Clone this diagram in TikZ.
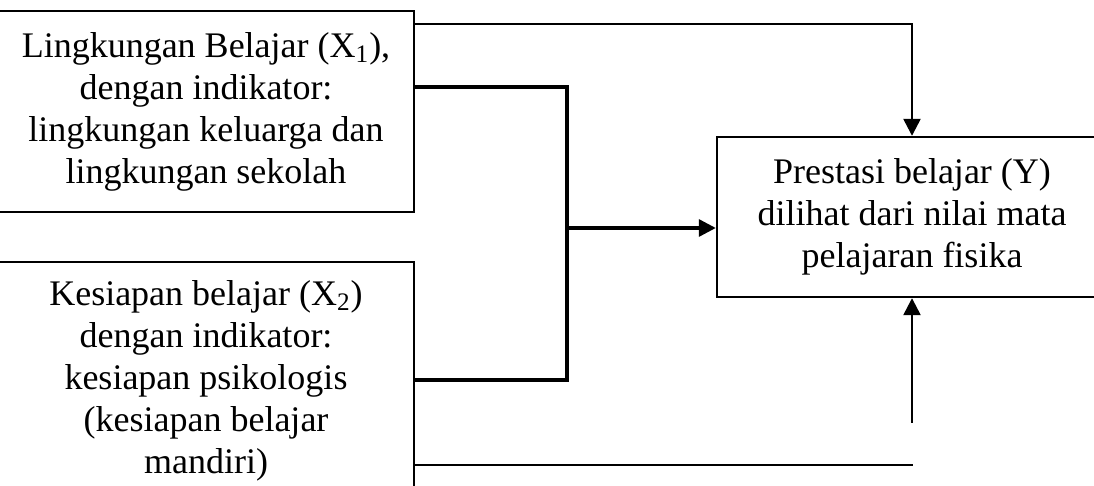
\documentclass[tikz,border=0pt]{standalone}
\usepackage{fontspec}
\setmainfont{Liberation Serif}
\usetikzlibrary{arrows.meta}
\begin{document}
\begin{tikzpicture}[x=0.5pt,y=-0.5pt,
  box/.style={draw=black,line width=1.2pt,align=center,inner sep=0pt,
    font=\fontsize{18}{21}\selectfont},
  conn/.style={draw=black,line width=1.25pt},
  thick conn/.style={draw=black,line width=1.6pt},
  arr/.style={-{Triangle[length=8.5pt,width=8.5pt]}}]
\useasboundingbox (0,0) rectangle (1094,486);
\node[box,minimum width=208pt,minimum height=100.5pt] (b1) at (206,111.5)
  {Lingkungan Belajar (X\textsubscript{1}),\\dengan indikator:\\lingkungan keluarga dan\\lingkungan sekolah};
\node[box,minimum width=208pt,minimum height=119pt] (b2) at (206,381)
  {Kesiapan belajar (X\textsubscript{2})\\dengan indikator:\\kesiapan psikologis\\(kesiapan belajar\\mandiri)};
\node[box,minimum width=195pt,minimum height=80pt] (y) at (912,217)
  {Prestasi belajar (Y)\\dilihat dari nilai mata\\pelajaran fisika};
\coordinate (j) at (567,228);
\coordinate (s) at (912,423);
\coordinate (e) at (913,465);
\draw[conn,arr] (b1.east |- 0,24) -| (y.north);
\draw[thick conn] (b1.east |- 0,87) -| (j);
\draw[thick conn] (b2.east |- 0,380) -| (j);
\draw[thick conn,arr] (j) -- (y.west |- j);
\draw[conn,arr] (s) -- (y.south);
\draw[conn] (b2.east |- e) -- (e);
\end{tikzpicture}
\end{document}
